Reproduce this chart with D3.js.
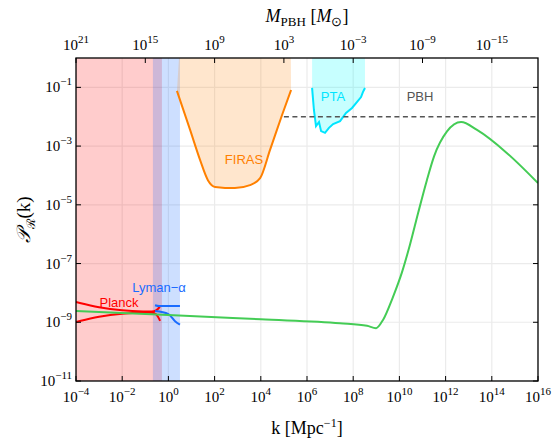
<!DOCTYPE html>
<html><head><meta charset="utf-8">
<script src="https://cdn.jsdelivr.net/npm/d3@7"></script>
<style>body{margin:0;background:#fff}</style>
</head><body>
<script>
// data: log10 k, log10 P
const greenLogK = [-4, 0, 4, 7.43, 8.6, 8.99, 9.29, 9.72, 10.11, 10.46, 10.81, 11.19, 11.5, 12.06, 12.67, 13.36, 14.66, 16];
const greenLogP = [-8.62, -8.75, -8.9, -9.03, -9.12, -9.2, -8.92, -8.14, -7.3, -6.35, -5.28, -4.16, -3.35, -2.5, -2.18, -2.45, -3.24, -4.26];
const firasLogK = [0.37, 0.94, 1.37, 1.71, 2.02, 2.88, 3.53, 3.97, 4.4, 4.92, 5.31];
const firasLogP = [-1.12, -2.45, -3.47, -4.16, -4.39, -4.43, -4.33, -4.09, -3.13, -1.94, -1.09];
const ptaLogK = [6.22, 6.3, 6.39, 6.52, 6.61, 6.78, 6.95, 7.13, 7.43, 7.69, 7.95, 8.16, 8.34, 8.42, 8.51];
const ptaLogP = [-1.02, -1.77, -2.32, -2.18, -2.49, -2.55, -2.38, -2.25, -2.15, -1.87, -1.7, -1.5, -1.33, -1.16, -1.02];
const planckUpK = [-4, -3, -2, -1, -0.58, -0.45, -0.36];
const planckUpP = [-8.31, -8.5, -8.6, -8.64, -8.64, -8.55, -8.45];
const planckLoK = [-4, -3, -2, -1, -0.58, -0.45, -0.36];
const planckLoP = [-8.99, -8.8, -8.7, -8.66, -8.66, -8.8, -8.95];
const lymanUpK = [-0.58, -0.4, 0.5];
const lymanUpP = [-8.42, -8.45, -8.45];
const lymanLoK = [-0.58, 0, 0.3, 0.5];
const lymanLoP = [-8.62, -8.72, -8.97, -9.08];
const planckBand = [-4, -0.28];
const lymanBand = [-0.67, 0.5];
const firasBand = [0.46, 5.3];
const ptaBand = [6.22, 8.51];
const pbhLogK = [5.0, 16];
const pbhLogP = -2;
const kTicks = [-4, -2, 0, 2, 4, 6, 8, 10, 12, 14, 16];
const pTicks = [-11, -9, -7, -5, -3, -1];
const mTicks = [21, 15, 9, 3, -3, -9, -15];

const W = 553, H = 444;
const m = {l: 76, r: 15, t: 58, b: 63};
const svg = d3.select("body").append("svg").attr("width", W).attr("height", H)
  .style("font-family", "Liberation Serif");
const x = d3.scaleLinear().domain([-4, 16]).range([m.l, W - m.r]);
const y = d3.scaleLinear().domain([-11, 0]).range([H - m.b, m.t]);
// M = 1e13 k^-2  -> log k = (13 - log M)/2
const xm = lm => x((13 - lm) / 2);

svg.append("defs").append("clipPath").attr("id", "c").append("rect")
  .attr("x", m.l).attr("y", m.t).attr("width", W - m.l - m.r).attr("height", H - m.t - m.b);
const g = svg.append("g").attr("clip-path", "url(#c)");

// grid
g.selectAll(".gx").data(kTicks).enter().append("line")
  .attr("x1", d => x(d)).attr("x2", d => x(d)).attr("y1", m.t).attr("y2", H - m.b)
  .attr("stroke", "#ebebeb").attr("stroke-width", 1.2);
g.selectAll(".gy").data(pTicks).enter().append("line")
  .attr("y1", d => y(d)).attr("y2", d => y(d)).attr("x1", m.l).attr("x2", W - m.r)
  .attr("stroke", "#ebebeb").attr("stroke-width", 1.2);

function band(b, col, op) {
  g.append("rect").attr("x", x(b[0])).attr("width", x(b[1]) - x(b[0]))
    .attr("y", m.t).attr("height", H - m.t - m.b).attr("fill", col).attr("fill-opacity", op);
}
band(planckBand, "#ff0000", 0.2);
band(lymanBand, "#1a6cff", 0.22);

const line = d3.line().x(d => x(d[0])).y(d => y(d[1])).curve(d3.curveMonotoneX);
const zip = (a, b) => a.map((v, i) => [v, b[i]]);

// FIRAS region: area above curve
const fir = zip(firasLogK, firasLogP);
g.append("path").attr("d", line(fir) + `L${x(firasBand[1])},${m.t}L${x(firasBand[0])},${m.t}Z`)
  .attr("fill", "#ff8c1a").attr("fill-opacity", 0.22);
g.append("path").attr("d", line(fir)).attr("fill", "none").attr("stroke", "#ff8000").attr("stroke-width", 2);

const pta = zip(ptaLogK, ptaLogP);
const lineL = d3.line().x(d => x(d[0])).y(d => y(d[1]));
g.append("path").attr("d", lineL(pta) + `L${x(ptaBand[1])},${m.t}L${x(ptaBand[0])},${m.t}Z`)
  .attr("fill", "#00ffff").attr("fill-opacity", 0.22);
g.append("path").attr("d", lineL(pta)).attr("fill", "none").attr("stroke", "#00e5ff").attr("stroke-width", 2);

// PBH dashed
g.append("line").attr("x1", x(pbhLogK[0])).attr("x2", x(pbhLogK[1])).attr("y1", y(pbhLogP)).attr("y2", y(pbhLogP))
  .attr("stroke", "#555").attr("stroke-width", 1.6).attr("stroke-dasharray", "5,3.5");

const lineB = d3.line().x(d => x(d[0])).y(d => y(d[1])).curve(d3.curveBasis);
[[planckUpK, planckUpP], [planckLoK, planckLoP]].forEach(a =>
  g.append("path").attr("d", lineB(zip(a[0], a[1]))).attr("fill", "none").attr("stroke", "#ff0000").attr("stroke-width", 2));
[[lymanUpK, lymanUpP], [lymanLoK, lymanLoP]].forEach(a =>
  g.append("path").attr("d", line(zip(a[0], a[1]))).attr("fill", "none").attr("stroke", "#1a6cff").attr("stroke-width", 2));

g.append("path").attr("d", line(zip(greenLogK, greenLogP)))
  .attr("fill", "none").attr("stroke", "#44cc55").attr("stroke-width", 2);

// labels
const lab = (t, lx, ly, c) => svg.append("text").attr("x", lx).attr("y", ly).attr("fill", c)
  .attr("text-anchor", "middle").style("font-family", "Liberation Sans").style("font-size", "13px").text(t);
lab("Planck", 119, 307, "#ff0000");
lab("Lyman\u2212\u03b1", 159, 292, "#1a6cff");
lab("FIRAS", 244, 164, "#ff8000");
lab("PTA", 333, 101, "#00e5ff");
lab("PBH", 420, 101, "#555");

// frame
svg.append("rect").attr("x", m.l).attr("y", m.t).attr("width", W - m.l - m.r).attr("height", H - m.t - m.b)
  .attr("fill", "none").attr("stroke", "#000").attr("stroke-width", 1.3);

const sup = (sel, e) => {
  sel.append("tspan").text("10");
  sel.append("tspan").attr("dy", -7).style("font-size", "11px").text(e < 0 ? "\u2212" + (-e) : e);
};
// ticks
kTicks.forEach(t => {
  svg.append("line").attr("x1", x(t)).attr("x2", x(t)).attr("y1", H - m.b).attr("y2", H - m.b - 5).attr("stroke", "#000");
  sup(svg.append("text").attr("x", x(t)).attr("y", H - m.b + 21).attr("text-anchor", "middle").style("font-size", "15px"), t);
});
pTicks.forEach(t => {
  svg.append("line").attr("x1", m.l).attr("x2", m.l + 5).attr("y1", y(t)).attr("y2", y(t)).attr("stroke", "#000");
  svg.append("line").attr("x1", W - m.r).attr("x2", W - m.r - 5).attr("y1", y(t)).attr("y2", y(t)).attr("stroke", "#000");
  sup(svg.append("text").attr("x", m.l - 4).attr("y", y(t) + 5).attr("text-anchor", "end").style("font-size", "15px"), t);
});
mTicks.forEach(t => {
  svg.append("line").attr("x1", xm(t)).attr("x2", xm(t)).attr("y1", m.t).attr("y2", m.t + 5).attr("stroke", "#000");
  sup(svg.append("text").attr("x", xm(t)).attr("y", m.t - 8).attr("text-anchor", "middle").style("font-size", "15px"), t);
});

// axis titles
const kt = svg.append("text").attr("x", (m.l + W - m.r) / 2).attr("y", 434).attr("text-anchor", "middle").style("font-size", "18px");
kt.append("tspan").text("k [Mpc");
kt.append("tspan").attr("dy", -7).style("font-size", "12px").text("\u22121");
kt.append("tspan").attr("dy", 7).text("]");
const mt = svg.append("text").attr("x", (m.l + W - m.r) / 2).attr("y", 22).attr("text-anchor", "middle").style("font-size", "18px");
mt.append("tspan").style("font-style", "italic").text("M");
mt.append("tspan").attr("dy", 4).style("font-size", "13px").text("PBH");
mt.append("tspan").attr("dy", -4).text(" [");
mt.append("tspan").style("font-style", "italic").text("M");
mt.append("tspan").attr("dy", 4).style("font-size", "13px").text("\u2299");
mt.append("tspan").attr("dy", -4).text("]");
const yt = svg.append("text").attr("transform", `translate(30,${(m.t + H - m.b) / 2}) rotate(-90)`)
  .attr("text-anchor", "middle").style("font-size", "19px");
yt.append("tspan").style("font-style", "italic").style("font-family", "DejaVu Serif").text("\ud835\udcab");
yt.append("tspan").attr("dy", 5).style("font-size", "12px").style("font-family", "DejaVu Serif").text("\u211b");
yt.append("tspan").attr("dy", -5).text("(k)");
</script>
</body></html>
